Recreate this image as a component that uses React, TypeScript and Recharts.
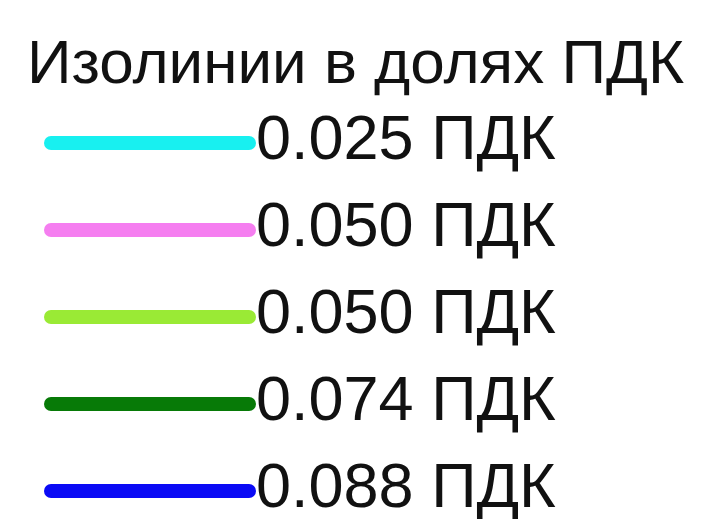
import { LabelList, Line, LineChart, XAxis, YAxis } from "recharts"

// isoline levels, in fractions of MPC (ПДК)
const levelValues = [0.025, 0.05, 0.05, 0.074, 0.088]
const levelColors = ["#18f0f0", "#f57ef0", "#9aea35", "#077a07", "#0a0af5"]
const unitLabel = "ПДК"
const titleText = "Изолинии в долях ПДК"

// each legend sample is a short horizontal segment: start and end of the swatch
const samplePoints = [0, 1]

const chartData = samplePoints.map((x) => {
	const row: Record<string, number> = { x }
	levelValues.forEach((_, i) => {
		row[`s${i}`] = i
	})
	return row
})

const FONT = "'Liberation Sans', Arial, sans-serif"

const makeLabel =
	(text: string) =>
	(props: any) => {
		const { x, y, index } = props
		if (index !== samplePoints.length - 1) return null
		return (
			<text
				x={x + 7}
				y={y + 16}
				fontSize={63}
				fontFamily={FONT}
				fill='#111'
			>
				{text}
			</text>
		)
	}

export default function App() {
	return (
		<div
			style={{
				position: "absolute",
				left: 0,
				top: 0,
				width: 705,
				height: 519,
				background: "#fff",
			}}
		>
			<div
				style={{
					position: "absolute",
					left: 27,
					top: 31,
					fontFamily: FONT,
					fontSize: 62,
					lineHeight: "62px",
					color: "#111",
					whiteSpace: "nowrap",
				}}
			>
				{titleText}
			</div>
			<LineChart
				width={705}
				height={519}
				data={chartData}
				margin={{ top: 143, right: 456, bottom: 28, left: 51 }}
			>
				<XAxis dataKey='x' type='number' domain={[0, 1]} hide />
				<YAxis type='number' domain={[0, levelValues.length - 1]} reversed hide />
				{levelValues.map((v, i) => (
					<Line
						key={i}
						dataKey={`s${i}`}
						stroke={levelColors[i]}
						strokeWidth={14}
						strokeLinecap='round'
						dot={false}
						activeDot={false}
						isAnimationActive={false}
					>
						<LabelList
							dataKey={`s${i}`}
							content={makeLabel(`${v.toFixed(3)} ${unitLabel}`)}
						/>
					</Line>
				))}
			</LineChart>
		</div>
	)
}
